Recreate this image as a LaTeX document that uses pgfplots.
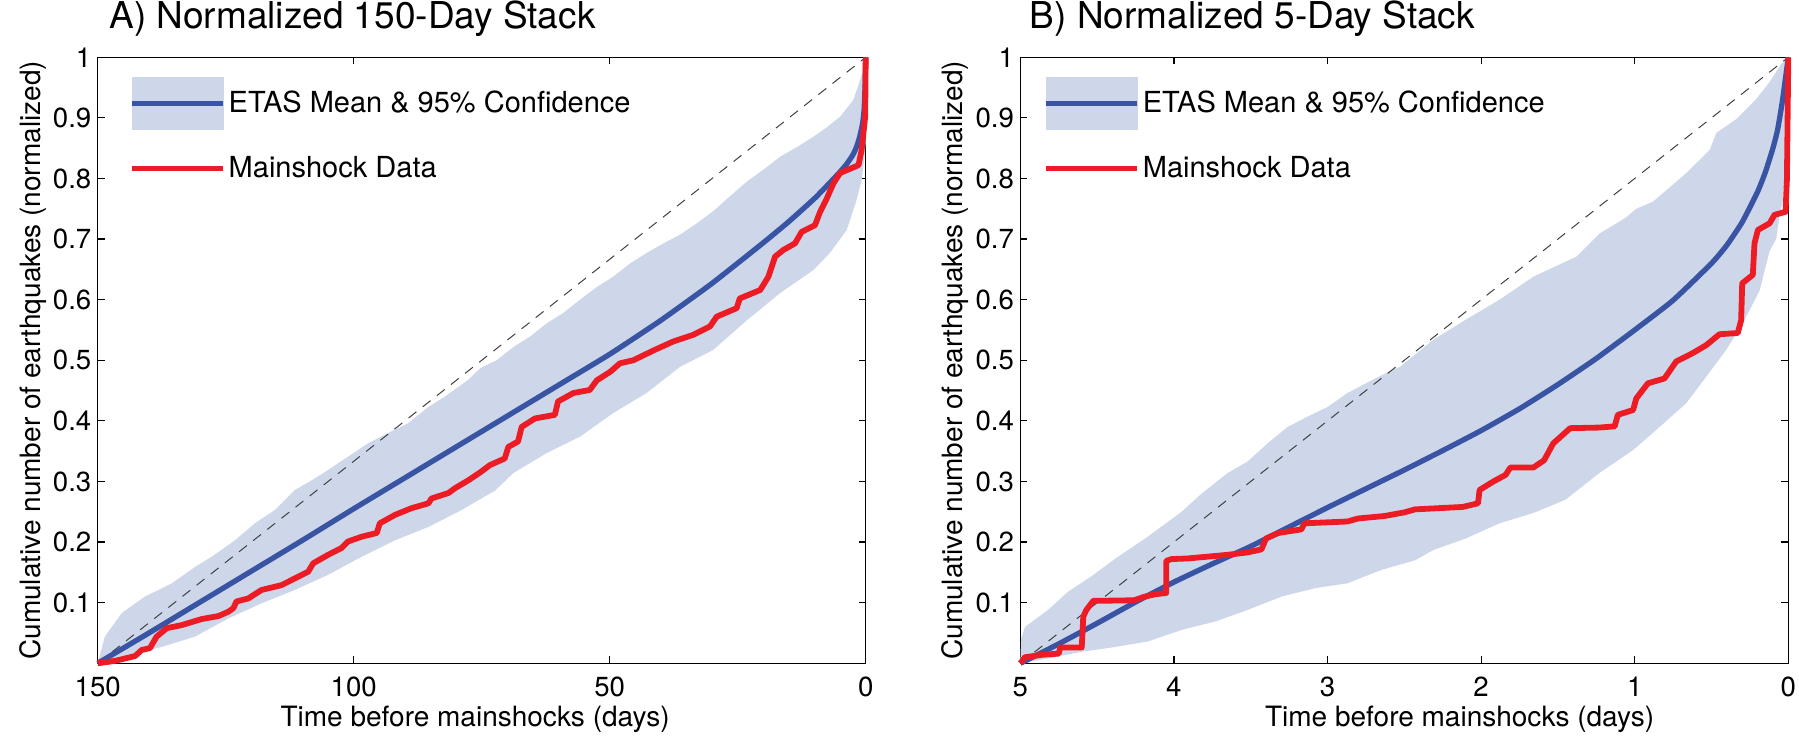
\documentclass[border=0pt]{standalone}
\usepackage{pgfplots}
\usepackage{pgfplotstable}
\pgfplotsset{compat=1.18}
\usepackage{fontspec}
\setmainfont{TeX Gyre Heros}
\definecolor{bandcol}{RGB}{206,215,234}
\definecolor{meanblue}{RGB}{58,84,164}
\definecolor{datared}{RGB}{237,28,36}

% ---------------- Panel A data ----------------
\pgfplotstableread{
t y
150 0
148.6 0.044
145.3 0.083
140.8 0.110
135.5 0.132
131.0 0.159
127.7 0.176
123.2 0.203
119.3 0.231
115.4 0.253
111.5 0.286
108.2 0.302
105.0 0.319
101.1 0.341
97.2 0.363
93.3 0.380
89.4 0.396
85.4 0.423
82.2 0.440
77.6 0.468
75.3 0.487
72.1 0.500
68.8 0.522
65.6 0.539
62.3 0.561
59.1 0.578
55.8 0.600
52.5 0.621
49.3 0.638
46.0 0.660
42.8 0.677
39.5 0.693
36.3 0.707
33.0 0.726
29.8 0.746
26.6 0.770
23.2 0.795
19.9 0.815
16.7 0.836
13.4 0.852
10.2 0.869
7.5 0.885
5.0 0.902
2.4 0.930
1.1 0.962
0 0.996
0 0.86
0.3 0.83
0.8 0.797
1.8 0.764
3.7 0.715
7.0 0.677
10.2 0.649
16.7 0.611
23.2 0.566
29.8 0.517
36.3 0.489
42.8 0.446
49.3 0.413
55.8 0.374
62.3 0.347
68.8 0.314
72.4 0.285
78.9 0.253
85.4 0.225
91.9 0.203
98.4 0.176
105.0 0.146
111.5 0.121
118.0 0.099
124.5 0.074
131.0 0.044
137.5 0.027
144.0 0.014
150 0
}\bandA

\pgfplotstableread{
t y
150 0
140 0.050
130 0.101
120 0.152
110 0.203
100 0.255
90 0.306
80 0.357
70 0.408
60 0.459
50 0.510
40 0.566
30 0.627
20 0.694
15 0.729
10 0.767
7 0.793
5 0.811
3.7 0.824
2.5 0.839
1.8 0.852
1.2 0.868
0.6 0.891
0.3 0.915
0.1 0.957
0.03 0.985
0 1
}\meanA

\pgfplotstableread{
t y
150 0
146.6 0.004
142.7 0.012
141.4 0.022
139.8 0.025
138.5 0.044
136.5 0.058
133.6 0.063
129.7 0.073
126.4 0.078
124.5 0.085
123.5 0.091
122.9 0.102
120.6 0.107
118.0 0.121
114.1 0.129
111.5 0.140
108.9 0.151
107.9 0.165
105.0 0.179
102.4 0.190
101.1 0.201
98.4 0.209
95.5 0.215
94.9 0.231
91.9 0.245
88.7 0.256
85.4 0.264
84.8 0.272
81.5 0.281
80.2 0.289
77.6 0.302
75.3 0.315
73.4 0.327
70.5 0.338
69.8 0.357
67.9 0.366
67.2 0.390
64.6 0.404
60.7 0.410
60.1 0.432
57.1 0.446
53.9 0.451
52.5 0.467
49.9 0.481
48.0 0.495
45.4 0.500
41.5 0.516
37.6 0.531
33.7 0.542
30.4 0.556
29.1 0.572
25.2 0.586
24.6 0.602
20.6 0.616
19.0 0.638
17.7 0.671
16.1 0.682
13.8 0.693
12.5 0.712
9.9 0.723
8.9 0.745
7.6 0.767
6.3 0.792
5.0 0.809
1.4 0.822
0.8 0.847
0.1 0.902
0 1.0
}\redA

% ---------------- Panel B data ----------------
\pgfplotstableread{
t y
5 0
4.995 0.04
4.97 0.060
4.82 0.088
4.69 0.118
4.54 0.143
4.38 0.173
4.17 0.209
3.95 0.250
3.82 0.280
3.65 0.314
3.52 0.333
3.39 0.363
3.26 0.390
3.13 0.407
3.00 0.423
2.87 0.446
2.69 0.470
2.58 0.484
2.53 0.489
2.31 0.534
2.10 0.567
1.88 0.600
1.66 0.638
1.38 0.671
1.23 0.709
1.06 0.735
0.99 0.750
0.88 0.762
0.751 0.790
0.664 0.809
0.512 0.847
0.469 0.875
0.339 0.898
0.209 0.931
0.122 0.959
0.046 0.989
0 1.0
0 0.9
0.01 0.847
0.036 0.764
0.057 0.739
0.079 0.700
0.122 0.680
0.187 0.615
0.296 0.561
0.405 0.517
0.534 0.473
0.665 0.429
0.882 0.380
1.01 0.352
1.23 0.314
1.45 0.270
1.66 0.248
1.88 0.231
2.10 0.206
2.31 0.187
2.43 0.170
2.65 0.154
2.87 0.132
3.08 0.124
3.30 0.110
3.52 0.088
3.73 0.069
3.95 0.055
4.17 0.036
4.38 0.027
4.60 0.019
4.82 0.008
5 0
}\bandB

\pgfplotstableread{
t y
5 0
4.75 0.032
4.5 0.066
4.25 0.101
4.0 0.134
3.75 0.164
3.5 0.193
3.25 0.225
3.0 0.257
2.75 0.288
2.5 0.319
2.25 0.351
2.0 0.384
1.75 0.420
1.5 0.460
1.25 0.503
1.0 0.550
0.75 0.599
0.5 0.660
0.4 0.690
0.3 0.728
0.2 0.778
0.15 0.810
0.1 0.850
0.07 0.880
0.04 0.925
0.02 0.962
0 1
}\meanB

\pgfplotstableread{
t y
5.0 0.0
4.99 0.003
4.97 0.010
4.86 0.014
4.75 0.016
4.74 0.026
4.60 0.026
4.59 0.077
4.57 0.088
4.525 0.103
4.26 0.104
4.19 0.110
4.12 0.114
4.05 0.116
4.05 0.169
4.015 0.172
3.91 0.173
3.65 0.179
3.52 0.183
3.43 0.188
3.40 0.206
3.32 0.215
3.17 0.221
3.15 0.231
2.87 0.234
2.80 0.239
2.63 0.243
2.50 0.249
2.43 0.254
2.12 0.258
2.02 0.264
2.01 0.286
1.92 0.300
1.84 0.311
1.81 0.323
1.66 0.323
1.59 0.335
1.53 0.363
1.42 0.388
1.23 0.389
1.13 0.391
1.11 0.410
1.01 0.418
0.99 0.437
0.914 0.462
0.806 0.470
0.730 0.498
0.621 0.512
0.534 0.525
0.448 0.543
0.329 0.545
0.307 0.566
0.300 0.627
0.231 0.641
0.220 0.693
0.198 0.715
0.122 0.726
0.090 0.740
0.018 0.745
0.009 0.798
0.0 1.0
}\redB

\pgfplotsset{
  panel/.style={
    scale only axis, width=384pt, height=303pt,
    x dir=reverse, ymin=0, ymax=1,
    ytick={0.1,0.2,0.3,0.4,0.5,0.6,0.7,0.8,0.9,1},
    clip=false,
    tick align=inside,
    major tick length=3.5pt,
    every tick/.style={black, line width=0.6pt},
    axis line style={black, line width=0.75pt},
    /pgf/number format/assume math mode=true,
    tick label style={font=\fontsize{13.8}{16}\selectfont},
    yticklabel style={inner sep=0pt, xshift=-3pt},
    xticklabel style={inner sep=0pt, yshift=-6.7pt},
    every axis y label/.style={at={(axis description cs:-0.0751,0.5)}, rotate=90, anchor=base, font=\fontsize{14}{17}\selectfont},
    every axis x label/.style={anchor=base, font=\fontsize{14}{17}\selectfont},
    title style={anchor=base west, font=\fontsize{18.5}{22}\selectfont, inner sep=0pt},
    ylabel={Cumulative number of earthquakes (normalized)},
    xlabel={Time before mainshocks (days)},
    legend cell align=left,
    legend style={anchor=north west, draw=none, fill=none, inner sep=0pt,
      nodes={inner sep=0pt, font=\fontsize{14.5}{17}\selectfont},
      row sep=13.05pt,
      /tikz/every odd column/.append style={column sep=1.5pt}},
  },
  bandimg/.style={legend image code/.code={
      \fill[bandcol] (0pt,-13.075pt) rectangle (45.5pt,13.075pt);
      \draw[meanblue, line width=2.65pt] (0pt,0pt) -- (45.5pt,0pt);}},
  redimg/.style={legend image code/.code={
      \draw[datared, line width=2.65pt] (0pt,0pt) -- (45.5pt,0pt);}},
}

\begin{document}
\begin{tikzpicture}
\useasboundingbox (0,0) rectangle (899.5pt,369pt);

\begin{axis}[panel,
  at={(48.85pt,37.35pt)}, anchor=south west,
  xmin=0, xmax=150, xtick={0,50,100,150},
  title={A) Normalized 150-Day Stack},
  title style={at={(axis description cs:0.0147,1.0274)}},
  xlabel style={at={(axis description cs:0.4914,-0.1051)}},
  legend style={at={(axis description cs:0.0408,0.968)}},
]
\addlegendimage{bandimg}
\addlegendentry{ETAS Mean \& 95\% Confidence}
\addlegendimage{redimg}
\addlegendentry{Mainshock Data}
\addplot[fill=bandcol, draw=none, forget plot] table[x=t,y=y] {\bandA};
\addplot[black!75, line width=0.5pt, dash pattern=on 5pt off 4pt, forget plot] coordinates {(150,0) (0,1)};
\addplot[meanblue, line width=2.65pt, smooth, tension=0.3, forget plot] table[x=t,y=y] {\meanA};
\addplot[datared, line width=2.9pt, line join=round, forget plot] table[x=t,y=y] {\redA};
\end{axis}

\begin{axis}[panel,
  at={(510.15pt,37.35pt)}, anchor=south west,
  xmin=0, xmax=5, xtick={0,1,2,3,4,5},
  title={B) Normalized 5-Day Stack},
  title style={at={(axis description cs:0.012,1.0274)}},
  xlabel style={at={(axis description cs:0.572,-0.1051)}},
  legend style={at={(axis description cs:0.0298,0.968)}},
]
\addlegendimage{bandimg}
\addlegendentry{ETAS Mean \& 95\% Confidence}
\addlegendimage{redimg}
\addlegendentry{Mainshock Data}
\addplot[fill=bandcol, draw=none, forget plot] table[x=t,y=y] {\bandB};
\addplot[black!75, line width=0.5pt, dash pattern=on 5pt off 4pt, forget plot] coordinates {(5,0) (0,1)};
\addplot[meanblue, line width=2.65pt, smooth, tension=0.3, forget plot] table[x=t,y=y] {\meanB};
\addplot[datared, line width=2.9pt, line join=round, forget plot] table[x=t,y=y] {\redB};
\end{axis}
\end{tikzpicture}
\end{document}
